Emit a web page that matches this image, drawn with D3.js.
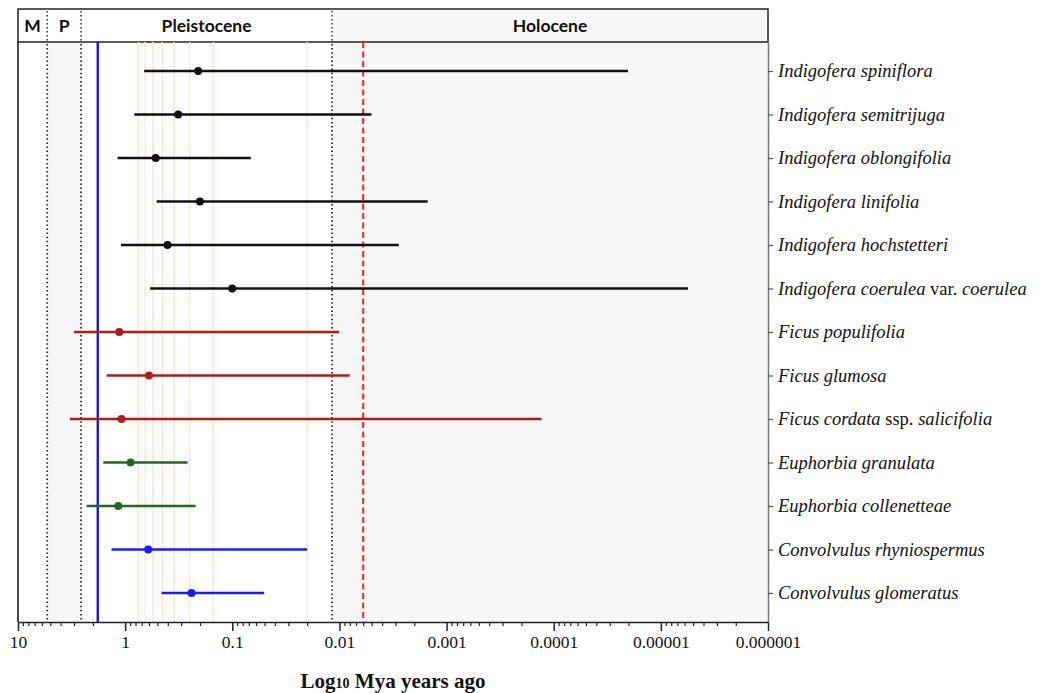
<!DOCTYPE html>
<html>
<head>
<meta charset="utf-8">
<script src="https://cdn.jsdelivr.net/npm/d3@7"></script>
<style>
  html, body { margin: 0; padding: 0; background: #fff; }
  svg { display: block; }
</style>
</head>
<body>
<svg id="chart" width="1049" height="693"></svg>
<script>
// Species divergence intervals (Mya): older bound, mean estimate, younger bound
const species = [
  "Indigofera spiniflora",
  "Indigofera semitrijuga",
  "Indigofera oblongifolia",
  "Indigofera linifolia",
  "Indigofera hochstetteri",
  "Indigofera coerulea var. coerulea",
  "Ficus populifolia",
  "Ficus glumosa",
  "Ficus cordata ssp. salicifolia",
  "Euphorbia granulata",
  "Euphorbia collenetteae",
  "Convolvulus rhyniospermus",
  "Convolvulus glomeratus"
];
const genus = ["Indigofera","Indigofera","Indigofera","Indigofera","Indigofera","Indigofera",
               "Ficus","Ficus","Ficus","Euphorbia","Euphorbia","Convolvulus","Convolvulus"];
const olderBound   = [0.664, 0.822, 1.175, 0.508, 1.094, 0.587, 3.0, 1.49, 3.27, 1.6, 2.29, 1.34, 0.457];
const meanAge      = [0.208, 0.32, 0.519, 0.2005, 0.402, 0.1002, 1.135, 0.6, 1.08, 0.889, 1.16, 0.609, 0.24];
const youngerBound = [2.03e-5, 0.00502, 0.0671, 0.0015, 0.00279, 5.58e-6, 0.01007, 0.008, 1.3e-4, 0.261, 0.22, 0.02, 0.0504];

// Geological time scale
const epochNames  = ["M", "P", "Pleistocene", "Holocene"];
const epochStarts = [10, 5.333, 2.58, 0.0117];
const epochEnds   = [5.333, 2.58, 0.0117, 1e-6];
const epochShaded = [false, true, false, true];
const epochHeaderShaded = [false, false, false, true];

// Reference events (Mya)
const climateEvents = [0.75, 0.65, 0.55, 0.45, 0.35, 0.25, 0.15, 0.02];
const blueEvent = 1.8;
const redEvent = 0.006;

// Axis ticks
const tickValues = [10, 1, 0.1, 0.01, 0.001, 0.0001, 0.00001, 0.000001];
const tickLabels = ["10", "1", "0.1", "0.01", "0.001", "0.0001", "0.00001", "0.000001"];

const genusColor = {
  "Indigofera": "#111111",
  "Ficus": "#b01c1c",
  "Euphorbia": "#1e6b1e",
  "Convolvulus": "#1a1aff"
};

const plotLeft = 18, plotRight = 768, plotTop = 42, plotBottom = 622;
const headerTop = 9;

const svg = d3.select("#chart");
svg.append("rect").attr("width", 1049).attr("height", 693).attr("fill", "#fff");

const x = d3.scaleLog().domain([10, 1e-6]).range([plotLeft, plotRight]);
const y = d3.scalePoint().domain(species).range([plotTop, plotBottom]).padding(0.667);

// Epoch shading in plot area
const epochs = epochNames.map((n, i) => ({ name: n, start: epochStarts[i], end: epochEnds[i], shaded: epochShaded[i], hshaded: epochHeaderShaded[i] }));
svg.append("g").selectAll("rect").data(epochs).join("rect")
  .attr("x", d => x(d.start)).attr("width", d => x(d.end) - x(d.start))
  .attr("y", plotTop).attr("height", plotBottom - plotTop)
  .attr("fill", d => d.shaded ? "#f7f7f7" : "#ffffff");

// Header band
const header = svg.append("g");
header.selectAll("rect").data(epochs).join("rect")
  .attr("x", d => x(d.start)).attr("width", d => x(d.end) - x(d.start))
  .attr("y", headerTop).attr("height", plotTop - headerTop)
  .attr("fill", d => d.hshaded ? "#f7f7f7" : "#ffffff");
header.selectAll("text").data(epochs).join("text")
  .attr("x", d => (x(d.start) + x(d.end)) / 2)
  .attr("y", (headerTop + plotTop) / 2 + 6)
  .attr("text-anchor", "middle")
  .attr("font-family", "Lato, 'Open Sans', sans-serif")
  .attr("font-weight", "bold")
  .attr("font-size", 17.5)
  .attr("fill", "#111")
  .text(d => d.name);
header.selectAll("line").data(epochStarts.slice(1)).join("line")
  .attr("x1", d => x(d)).attr("x2", d => x(d))
  .attr("y1", headerTop + 2).attr("y2", plotTop)
  .attr("stroke", "#333").attr("stroke-width", 1.5)
  .attr("stroke-dasharray", "1.4,2.6");
header.append("rect")
  .attr("x", plotLeft).attr("y", headerTop).attr("width", plotRight - plotLeft).attr("height", plotTop - headerTop)
  .attr("fill", "none").attr("stroke", "#222").attr("stroke-width", 1.5);

// Climate event lines
svg.append("g").selectAll("line").data(climateEvents).join("line")
  .attr("x1", d => x(d)).attr("x2", d => x(d))
  .attr("y1", plotTop).attr("y2", plotBottom)
  .attr("stroke", "#fde6d4").attr("stroke-width", 1.6);

// Epoch boundaries (dotted)
svg.append("g").selectAll("line").data(epochStarts.slice(1)).join("line")
  .attr("x1", d => x(d)).attr("x2", d => x(d))
  .attr("y1", plotTop + 2).attr("y2", plotBottom)
  .attr("stroke", "#222").attr("stroke-width", 1.7)
  .attr("stroke-dasharray", "1.5,2.6");

// Blue event line
svg.append("line")
  .attr("x1", x(blueEvent)).attr("x2", x(blueEvent))
  .attr("y1", plotTop).attr("y2", plotBottom)
  .attr("stroke", "#2020d0").attr("stroke-width", 2.5);

// Red dashed event line
svg.append("line")
  .attr("x1", x(redEvent)).attr("x2", x(redEvent))
  .attr("y1", plotTop).attr("y2", plotBottom)
  .attr("stroke", "#ff2020").attr("stroke-width", 2)
  .attr("stroke-dasharray", "6,3.5");

// Intervals
const rows = species.map((s, i) => ({ name: s, genus: genus[i], lo: olderBound[i], mid: meanAge[i], hi: youngerBound[i] }));
const marks = svg.append("g");
marks.selectAll("line").data(rows).join("line")
  .attr("x1", d => x(d.lo)).attr("x2", d => x(d.hi))
  .attr("y1", d => y(d.name)).attr("y2", d => y(d.name))
  .attr("stroke", d => genusColor[d.genus]).attr("stroke-width", 2.5);
marks.selectAll("circle").data(rows).join("circle")
  .attr("cx", d => x(d.mid)).attr("cy", d => y(d.name)).attr("r", 4)
  .attr("fill", d => genusColor[d.genus]);

// Left frame line
svg.append("line").attr("x1", plotLeft).attr("x2", plotLeft).attr("y1", plotTop).attr("y2", plotBottom)
  .attr("stroke", "#111").attr("stroke-width", 1.5);

// Bottom axis: minor ticks
const minorTicks = [];
for (let e = 0; e >= -6; e--) {
  for (let m = 2; m <= 9; m++) minorTicks.push(m * Math.pow(10, e));
}
const minorG = svg.append("g").attr("transform", `translate(0,${plotBottom})`)
  .call(d3.axisBottom(x).tickValues(minorTicks).tickSize(4).tickFormat(""));
minorG.select(".domain").remove();
minorG.selectAll("line").attr("stroke", "#222").attr("stroke-width", 1.2);

const xAxis = svg.append("g").attr("transform", `translate(0,${plotBottom})`)
  .call(d3.axisBottom(x).tickValues(tickValues).tickSize(9).tickSizeOuter(0)
    .tickFormat((d, i) => tickLabels[i]));
xAxis.select(".domain").attr("stroke", "#222").attr("stroke-width", 1.5);
xAxis.selectAll(".tick line").attr("stroke", "#222").attr("stroke-width", 1.5);
xAxis.selectAll(".tick text")
  .attr("font-family", "'Liberation Serif', 'Times New Roman', serif")
  .attr("font-size", 17.5).attr("fill", "#111").attr("dy", "0.8em");

// Right axis with species labels
const yAxis = svg.append("g").attr("transform", `translate(${plotRight},0)`)
  .call(d3.axisRight(y).tickSize(5).tickSizeOuter(0).tickPadding(5));
yAxis.select(".domain").attr("stroke", "#777").attr("stroke-width", 1.5);
yAxis.selectAll(".tick line").attr("stroke", "#555").attr("stroke-width", 1.2);
yAxis.selectAll(".tick text")
  .attr("font-family", "'Liberation Serif', 'Times New Roman', serif")
  .attr("font-size", 18.5).attr("fill", "#111")
  .each(function (d) {
    const t = d3.select(this);
    t.text(null);
    const m = d.match(/^(.*?) (var\.|ssp\.) (.*)$/);
    if (m) {
      t.append("tspan").attr("font-style", "italic").text(m[1] + " ");
      t.append("tspan").text(m[2] + " ");
      t.append("tspan").attr("font-style", "italic").text(m[3]);
    } else {
      t.append("tspan").attr("font-style", "italic").text(d);
    }
  });

// Axis title
const title = svg.append("text")
  .attr("x", 393).attr("y", 688)
  .attr("text-anchor", "middle")
  .attr("font-family", "'Liberation Serif', 'Times New Roman', serif")
  .attr("font-weight", "bold").attr("font-size", 21).attr("fill", "#111");
title.append("tspan").text("Log");
title.append("tspan").attr("font-size", 14).text("10");
title.append("tspan").text(" Mya years ago");
</script>
</body>
</html>
